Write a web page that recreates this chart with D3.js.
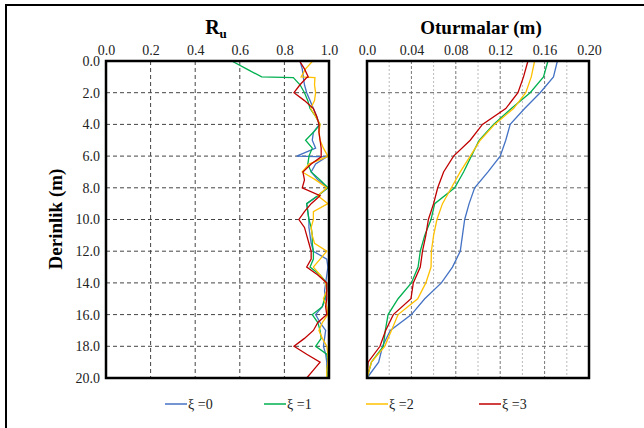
<!DOCTYPE html>
<html>
<head>
<meta charset="utf-8">
<script src="https://cdn.jsdelivr.net/npm/d3@7"></script>
<style>
  body { margin: 0; background: #fff; }
  text { font-family: "Liberation Serif", "Times New Roman", serif; }
</style>
</head>
<body>
<div id="chart"></div>
<script>
// Ru profile (left panel), depth grid with a couple of doubled layer boundaries
const depthRu = [0, 0.5, 1.0, 1.05, 1.5, 2.0, 2.5, 3.0, 3.5, 4.0, 4.5, 5.0, 5.5, 6.0, 6.05, 6.5, 7.0, 7.5, 8.0, 8.5,
  9.0, 9.5, 10.0, 10.5, 11.0, 11.5, 12.0, 12.5, 13.0, 13.5, 14.0, 14.5, 15.0, 15.5, 16.0, 16.5, 17.0, 17.5, 18.0, 18.5,
  19.0, 19.5, 20.0];
const ru0 = [0.87, 0.88, 0.885, 0.885, 0.89, 0.90, 0.915, 0.93, 0.945, 0.957, 0.93, 0.925, 0.94, 0.855, 0.99, 0.94, 0.92, 0.95, 0.995, 0.95,
  0.90, 0.905, 0.91, 0.91, 0.915, 0.92, 0.93, 0.99, 0.995, 0.99, 0.985, 0.98, 0.985, 0.97, 0.94, 0.96, 0.985, 0.98, 0.975, 0.985,
  0.99, 0.99, 0.995];
const ru1 = [0.564, 0.63, 0.698, 0.84, 0.87, 0.89, 0.905, 0.915, 0.94, 0.96, 0.93, 0.895, 0.925, 0.91, 0.91, 0.905, 0.92, 0.96, 0.995, 0.95,
  0.90, 0.905, 0.91, 0.92, 0.925, 0.925, 0.93, 0.93, 0.915, 0.96, 0.99, 0.99, 0.98, 0.97, 0.925, 0.95, 0.96, 0.965, 0.94, 0.99,
  0.995, 0.99, 0.995];
const ru2 = [0.927, 0.895, 0.875, 0.937, 0.935, 0.94, 0.935, 0.918, 0.94, 0.96, 0.955, 0.96, 0.975, 0.995, 0.99, 0.91, 0.88, 0.94, 0.99, 0.95,
  0.995, 0.93, 0.93, 0.92, 0.925, 0.935, 0.99, 0.96, 0.93, 0.96, 0.985, 0.99, 0.975, 0.99, 0.995, 0.97, 0.955, 0.97, 0.99, 0.995,
  0.995, 0.99, 0.99];
const ru3 = [0.868, 0.89, 0.907, 0.90, 0.87, 0.843, 0.89, 0.93, 0.945, 0.955, 0.955, 0.96, 0.965, 0.965, 0.965, 0.92, 0.883, 0.89, 0.88, 0.96,
  0.92, 0.89, 0.865, 0.89, 0.90, 0.91, 0.92, 0.92, 0.90, 0.95, 0.99, 0.99, 0.99, 0.985, 0.99, 0.95, 0.93, 0.89, 0.843, 0.90,
  0.96, 0.93, 0.90];

// settlements (right panel), one value per metre
const depthSet = [0, 1, 2, 3, 4, 5, 6, 7, 8, 9, 10, 11, 12, 13, 14, 15, 16, 17, 18, 19, 20];
const set0 = [0.1715, 0.168, 0.156, 0.142, 0.129, 0.125, 0.120, 0.109, 0.097, 0.092, 0.088, 0.086, 0.084, 0.077, 0.067, 0.052, 0.040, 0.021, 0.014, 0.0105, 0.0];
const set1 = [0.163, 0.159, 0.147, 0.130, 0.114, 0.101, 0.094, 0.087, 0.079, 0.061, 0.0577, 0.052, 0.048, 0.046, 0.040, 0.028, 0.019, 0.0165, 0.0147, 0.004, 0.0];
const set2 = [0.151, 0.148, 0.143, 0.132, 0.115, 0.102, 0.093, 0.084, 0.076, 0.068, 0.063, 0.060, 0.058, 0.0577, 0.053, 0.0457, 0.028, 0.022, 0.016, 0.004, 0.0];
const set3 = [0.145, 0.141, 0.136, 0.125, 0.104, 0.093, 0.078, 0.069, 0.0637, 0.060, 0.0553, 0.053, 0.050, 0.048, 0.0417, 0.0396, 0.0237, 0.0168, 0.0117, 0.001, 0.0];

const seriesNames = ["ξ =0", "ξ =1", "ξ =2", "ξ =3"];
const colors = ["#4472C4", "#00B050", "#FFC000", "#C00000"];
const ruTicks = [0, 0.2, 0.4, 0.6, 0.8, 1.0];
const setTicks = [0, 0.04, 0.08, 0.12, 0.16, 0.20];
const setGrid = [0.02, 0.04, 0.06, 0.08, 0.10, 0.12, 0.14, 0.16, 0.18];
const depthTicks = [0, 2, 4, 6, 8, 10, 12, 14, 16, 18, 20];

const serif = "'Liberation Serif', 'Times New Roman', serif";
const width = 644, height = 428;
const svg = d3.select("#chart").append("svg")
  .attr("width", width)
  .attr("height", height)
  .attr("font-family", serif);

// outer frame
svg.append("rect")
  .attr("x", 6).attr("y", 5)
  .attr("width", 700).attr("height", 500)
  .attr("fill", "none").attr("stroke", "#000").attr("stroke-width", 2);

const y = d3.scaleLinear().domain([0, 20]).range([61, 378]);
const xRu = d3.scaleLinear().domain([0, 1]).range([106, 329]);
const xSet = d3.scaleLinear().domain([0, 0.2]).range([367, 589]);

// ---- gridlines
const gL = svg.append("g");
gL.selectAll("line.v").data(ruTicks.slice(1, -1)).join("line")
  .attr("x1", d => xRu(d)).attr("x2", d => xRu(d))
  .attr("y1", y(0)).attr("y2", y(20))
  .attr("stroke", "#444").attr("stroke-width", 1).attr("stroke-dasharray", "4,3");
gL.selectAll("line.h").data(depthTicks.slice(1, -1)).join("line")
  .attr("x1", xRu(0)).attr("x2", xRu(1))
  .attr("y1", d => y(d)).attr("y2", d => y(d))
  .attr("stroke", "#444").attr("stroke-width", 1).attr("stroke-dasharray", "4,3");

const gR = svg.append("g");
gR.selectAll("line.v").data(setGrid).join("line")
  .attr("x1", d => xSet(d)).attr("x2", d => xSet(d))
  .attr("y1", y(0)).attr("y2", y(20))
  .attr("stroke", (d, i) => i % 2 ? "#777" : "#bbb").attr("stroke-width", 1)
  .attr("stroke-dasharray", (d, i) => i % 2 ? "3,2" : "2,2");
gR.selectAll("line.h").data(depthTicks.slice(1, -1)).join("line")
  .attr("x1", xSet(0)).attr("x2", xSet(0.2))
  .attr("y1", d => y(d)).attr("y2", d => y(d))
  .attr("stroke", "#666").attr("stroke-width", 1).attr("stroke-dasharray", "4,3");

// ---- series
const lineRu = d3.line().x(d => xRu(d[1])).y(d => y(d[0]));
[ru0, ru1, ru2, ru3].forEach((vals, i) => {
  svg.append("path")
    .datum(depthRu.map((d, j) => [d, vals[j]]))
    .attr("d", lineRu)
    .attr("fill", "none")
    .attr("stroke", colors[i])
    .attr("stroke-width", 1.3);
});

const lineSet = d3.line().x(d => xSet(d[1])).y(d => y(d[0]));
[set0, set1, set2, set3].forEach((vals, i) => {
  svg.append("path")
    .datum(depthSet.map((d, j) => [d, vals[j]]))
    .attr("d", lineSet)
    .attr("fill", "none")
    .attr("stroke", colors[i])
    .attr("stroke-width", 1.3);
});

// ---- panel frames
svg.append("rect")
  .attr("x", xRu(0)).attr("y", y(0))
  .attr("width", xRu(1) - xRu(0)).attr("height", y(20) - y(0))
  .attr("fill", "none").attr("stroke", "#000").attr("stroke-width", 2.5);
svg.append("rect")
  .attr("x", xSet(0)).attr("y", y(0))
  .attr("width", xSet(0.2) - xSet(0)).attr("height", y(20) - y(0))
  .attr("fill", "none").attr("stroke", "#000").attr("stroke-width", 2.5);

// ---- axes
function styleAxis(g) {
  g.attr("font-family", serif).attr("font-size", 14);
  g.select(".domain").remove();
  g.selectAll("text").attr("fill", "#222");
}

svg.append("g")
  .attr("transform", `translate(0,${y(0) - 2})`)
  .call(d3.axisTop(xRu).tickValues(ruTicks).tickFormat(d3.format(".1f")).tickSize(0).tickPadding(4))
  .call(styleAxis);

svg.append("g")
  .attr("transform", `translate(0,${y(0) - 2})`)
  .call(d3.axisTop(xSet).tickValues(setTicks).tickFormat(d => d === 0 ? "0.0" : d3.format(".2f")(d)).tickSize(0).tickPadding(4))
  .call(styleAxis);

svg.append("g")
  .attr("transform", `translate(${xRu(0) - 4},0)`)
  .call(d3.axisLeft(y).tickValues(depthTicks).tickFormat(d3.format(".1f")).tickSize(0).tickPadding(2))
  .call(styleAxis);

// ---- titles
const ruTitle = svg.append("text")
  .attr("x", 216).attr("y", 34)
  .attr("text-anchor", "middle")
  .attr("font-size", 20).attr("font-weight", "bold");
ruTitle.append("tspan").text("R");
ruTitle.append("tspan").text("u").attr("font-size", 13).attr("dy", 4);

svg.append("text")
  .attr("x", 481).attr("y", 34)
  .attr("text-anchor", "middle")
  .attr("font-size", 19).attr("font-weight", "bold")
  .text("Oturmalar (m)");

svg.append("text")
  .attr("transform", "translate(62,219) rotate(-90)")
  .attr("text-anchor", "middle")
  .attr("font-size", 19).attr("font-weight", "bold")
  .text("Derinlik (m)");

// ---- legend
const legendX = [165, 264, 366, 479];
const legend = svg.append("g");
seriesNames.forEach((name, i) => {
  legend.append("line")
    .attr("x1", legendX[i]).attr("x2", legendX[i] + 22)
    .attr("y1", 404).attr("y2", 404)
    .attr("stroke", colors[i]).attr("stroke-width", 1.5);
  legend.append("text")
    .attr("x", legendX[i] + 23).attr("y", 409)
    .attr("font-size", 14).attr("fill", "#222")
    .text(name);
});
</script>
</body>
</html>
